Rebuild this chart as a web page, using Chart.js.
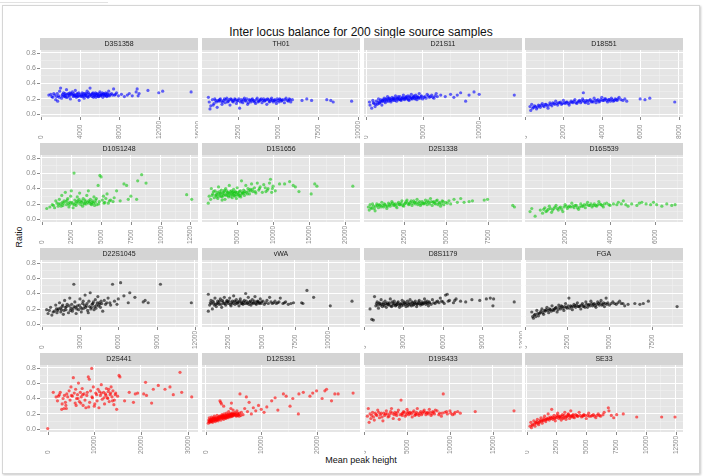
<!DOCTYPE html>
<html lang="en">
<head>
<meta charset="UTF-8">
<title>Inter locus balance</title>
<script src="https://cdn.jsdelivr.net/npm/chart.js"></script>
<style>
  body { margin:0; width:703px; height:476px; overflow:hidden; position:relative; background:#fff;
         font-family:"Liberation Sans", Arial, Helvetica, sans-serif; }
  #frame { position:absolute; left:2px; top:5px; width:696px; height:467px; border:1px solid #d6d6d6;
           box-shadow:1px 1px 2px #c8c8c8; }
  #topline { position:absolute; left:0; top:2px; width:108px; border-top:1px solid #e2e2e2; }
  #title { position:absolute; left:0; width:722px; top:25px; text-align:center; font-size:12px; color:#111; }
  #ylab { position:absolute; left:-1px; top:232px; width:40px; text-align:center; font-size:9px; color:#111;
          transform:rotate(-90deg); }
  #xlab { position:absolute; left:0; width:722px; top:455px; text-align:center; font-size:9px; color:#111; }
  canvas { position:absolute; }
</style>
</head>
<body>
<div id="topline"></div>
<div id="frame"></div>
<div id="title">Inter locus balance for 200 single source samples</div>
<div id="ylab">Ratio</div>
<div id="xlab">Mean peak height</div>
<script>
// [mean peak height, ratio]
const d3s1358 = [[800,0.25],[1000,0.26],[1200,0.22],[1300,0.27],[1500,0.19],[1600,0.23],[1700,0.17],[1800,0.24],[1900,0.30],[2000,0.34],[2100,0.21],[2200,0.26],[2300,0.28],[2400,0.23],[2500,0.25],[2600,0.32],[2700,0.22],[2800,0.27],[2900,0.24],[3000,0.20],[3100,0.26],[3200,0.29],[3300,0.23],[3400,0.25],[3500,0.31],[3600,0.22],[3700,0.27],[3800,0.24],[3900,0.18],[4000,0.26],[4100,0.23],[4200,0.28],[4300,0.25],[4400,0.21],[4500,0.27],[4600,0.24],[4700,0.30],[4800,0.22],[4900,0.26],[5000,0.34],[5100,0.25],[5200,0.23],[5300,0.28],[5400,0.24],[5500,0.26],[5600,0.22],[5700,0.27],[5800,0.25],[5900,0.23],[6000,0.29],[6100,0.24],[6200,0.26],[6300,0.22],[6400,0.27],[6500,0.25],[6600,0.28],[6700,0.23],[6800,0.26],[6900,0.30],[7000,0.24],[7200,0.27],[7400,0.33],[7500,0.25],[7700,0.28],[7900,0.24],[8200,0.26],[8500,0.23],[8800,0.25],[9000,0.27],[9300,0.24],[9700,0.29],[9800,0.33],[9900,0.24],[10000,0.27],[10900,0.31],[12000,0.28],[12400,0.30],[15300,0.29],[2350,0.24],[2650,0.26],[3250,0.25],[3750,0.23],[4150,0.25],[4650,0.27],[5150,0.26],[5650,0.24],[6150,0.25],[6650,0.24],[3050,0.27],[4450,0.24],[5450,0.25],[6350,0.26],
  [1100,0.23],[1400,0.25],[1650,0.27],[1850,0.22],[2150,0.24],[2450,0.27],[2550,0.22],[2850,0.25],[2950,0.28],[3350,0.27],[3550,0.24],[3650,0.26],[3850,0.28],[3950,0.24],[4250,0.23],[4350,0.27],[4550,0.25],[4750,0.23],[4850,0.28],[4950,0.24],[5250,0.27],[5350,0.22],[5550,0.28],[5750,0.26],[5850,0.23],[5950,0.27],[6050,0.25],[6250,0.28],[6450,0.24],[6550,0.26],[6750,0.27],[6850,0.24],[7050,0.26],[7300,0.25],[7600,0.26],[3450,0.24]];
const th01 = [[650,0.22],[700,0.16],[750,0.07],[800,0.11],[900,0.19],[1000,0.14],[1100,0.18],[1200,0.09],[1300,0.17],[1400,0.20],[1500,0.13],[1600,0.18],[1700,0.15],[1800,0.21],[1900,0.17],[2000,0.12],[2100,0.19],[2200,0.16],[2300,0.20],[2400,0.14],[2500,0.18],[2600,0.08],[2700,0.19],[2800,0.15],[2900,0.21],[3000,0.17],[3100,0.13],[3200,0.19],[3300,0.16],[3400,0.20],[3500,0.18],[3600,0.14],[3700,0.21],[3800,0.17],[3900,0.19],[4000,0.15],[4100,0.20],[4200,0.18],[4300,0.13],[4400,0.19],[4500,0.17],[4600,0.21],[4700,0.16],[4800,0.19],[4900,0.14],[5000,0.18],[5100,0.20],[5200,0.17],[5300,0.19],[5400,0.15],[5500,0.21],[5600,0.18],[5700,0.20],[5800,0.16],[5900,0.19],[6500,0.18],[6800,0.20],[7100,0.18],[8050,0.19],[8300,0.18],[8450,0.16],[9600,0.17],[1250,0.18],[1750,0.19],[2250,0.18],[2750,0.17],[3250,0.18],[3750,0.16],[4250,0.19],[4750,0.18],[2050,0.20],[3450,0.17],[4050,0.18],[2450,0.17],[1550,0.16],[950,0.12],[3150,0.15],
  [1150,0.16],[1350,0.19],[1450,0.17],[1650,0.20],[1850,0.16],[1950,0.19],[2150,0.17],[2350,0.19],[2550,0.20],[2650,0.16],[2850,0.19],[2950,0.18],[3050,0.20],[3350,0.19],[3550,0.16],[3650,0.19],[3850,0.18],[3950,0.20],[4150,0.17],[4350,0.20],[4450,0.16],[4550,0.19],[4650,0.18],[4850,0.17],[4950,0.20],[5050,0.16],[5150,0.19],[5250,0.18],[5450,0.19],[5650,0.17],[5750,0.19],[1050,0.20]];
const d21s11 = [[300,0.16],[350,0.12],[500,0.08],[600,0.18],[700,0.14],[800,0.10],[900,0.17],[1000,0.13],[1100,0.20],[1200,0.15],[1300,0.19],[1400,0.12],[1500,0.17],[1600,0.21],[1700,0.15],[1800,0.19],[1900,0.23],[2000,0.17],[2100,0.20],[2200,0.16],[2300,0.22],[2400,0.18],[2500,0.20],[2600,0.24],[2700,0.17],[2800,0.21],[2900,0.19],[3000,0.23],[3100,0.18],[3200,0.21],[3300,0.25],[3400,0.19],[3500,0.22],[3600,0.20],[3700,0.24],[3800,0.18],[3900,0.22],[4000,0.26],[4100,0.20],[4200,0.23],[4300,0.21],[4400,0.25],[4500,0.19],[4600,0.22],[4700,0.27],[4800,0.21],[4900,0.24],[5000,0.20],[5200,0.23],[5400,0.26],[5600,0.22],[5800,0.25],[6000,0.21],[6200,0.27],[6300,0.23],[6600,0.25],[7000,0.23],[7470,0.26],[7760,0.22],[8060,0.25],[8360,0.28],[8800,0.17],[9100,0.25],[9540,0.29],[10000,0.26],[13100,0.25],[1450,0.18],[1950,0.20],[2450,0.21],[2950,0.20],[3450,0.21],[3950,0.20],[4450,0.22],[2150,0.18],[3150,0.20],[4150,0.22],[5100,0.22],[5500,0.24],
  [650,0.15],[850,0.13],[1050,0.16],[1150,0.14],[1250,0.17],[1350,0.16],[1550,0.19],[1650,0.17],[1750,0.20],[1850,0.17],[2050,0.21],[2250,0.19],[2350,0.20],[2550,0.18],[2650,0.21],[2750,0.20],[2850,0.23],[3050,0.19],[3250,0.22],[3350,0.20],[3550,0.23],[3650,0.21],[3750,0.19],[3850,0.23],[4050,0.21],[4250,0.24],[4350,0.20],[4550,0.23],[4650,0.21],[4850,0.23],[5300,0.21],[5700,0.23],[5900,0.22],[6100,0.24]];
const d18s51 = [[260,0.10],[300,0.05],[350,0.13],[400,0.08],[500,0.11],[600,0.07],[700,0.12],[800,0.09],[900,0.14],[1000,0.10],[1100,0.13],[1200,0.08],[1300,0.15],[1400,0.11],[1500,0.14],[1600,0.17],[1700,0.12],[1800,0.15],[1900,0.13],[2000,0.18],[2100,0.14],[2200,0.16],[2300,0.12],[2400,0.17],[2500,0.15],[2600,0.19],[2700,0.14],[2800,0.17],[2900,0.15],[3000,0.20],[3040,0.28],[3100,0.16],[3200,0.18],[3300,0.14],[3400,0.19],[3500,0.17],[3600,0.21],[3700,0.15],[3800,0.19],[3900,0.17],[4000,0.22],[4100,0.18],[4200,0.20],[4300,0.16],[4400,0.19],[4500,0.21],[4600,0.17],[4700,0.20],[4800,0.18],[4900,0.22],[5000,0.19],[5300,0.17],[6000,0.20],[6250,0.19],[6500,0.21],[7800,0.16],[1250,0.12],[1750,0.15],[2250,0.14],[2750,0.16],[3250,0.17],[3750,0.18],[4250,0.18],[650,0.09],[1550,0.13],[2050,0.15],[2550,0.17],[3550,0.16],
  [450,0.09],[550,0.10],[750,0.11],[850,0.12],[950,0.11],[1050,0.13],[1150,0.11],[1350,0.13],[1450,0.15],[1650,0.14],[1850,0.16],[1950,0.14],[2150,0.16],[2350,0.15],[2450,0.16],[2650,0.15],[2850,0.18],[2950,0.17],[3050,0.18],[3150,0.15],[3350,0.18],[3450,0.16],[3650,0.18],[3850,0.16],[3950,0.19],[4050,0.18],[4150,0.20],[4350,0.19],[4450,0.17],[4550,0.19],[4650,0.18],[4750,0.19],[4850,0.20],[5100,0.18],[5200,0.20]];
const d10s1248 = [[440,0.14],[700,0.16],[900,0.19],[1100,0.15],[1300,0.21],[1400,0.17],[1500,0.26],[1600,0.20],[1700,0.31],[1800,0.18],[1900,0.24],[2000,0.35],[2100,0.19],[2200,0.27],[2300,0.16],[2400,0.22],[2500,0.37],[2600,0.20],[2730,0.60],[2800,0.25],[2900,0.18],[3000,0.29],[3100,0.21],[3200,0.34],[3300,0.19],[3400,0.24],[3500,0.27],[3600,0.20],[3700,0.23],[3800,0.31],[3930,0.37],[4000,0.21],[4100,0.26],[4200,0.19],[4300,0.24],[4400,0.29],[4500,0.22],[4600,0.27],[4750,0.44],[4800,0.20],[4900,0.57],[5000,0.55],[5100,0.25],[5200,0.30],[5300,0.22],[5400,0.27],[5600,0.21],[5800,0.25],[6000,0.23],[6300,0.37],[6600,0.24],[6920,0.46],[7140,0.44],[7280,0.26],[7500,0.30],[7980,0.26],[8070,0.50],[8400,0.58],[8770,0.47],[12180,0.32],[12600,0.26],[1200,0.24],[1750,0.22],[2250,0.21],[2750,0.19],[3250,0.23],[3750,0.20],[4250,0.22],[4650,0.19],[2450,0.30],[3450,0.17],[3150,0.26],[5500,0.33],[6100,0.28],[2650,0.15],[3050,0.24],[4450,0.18],[4150,0.20],
  [1000,0.18],[1450,0.20],[1650,0.17],[1850,0.21],[2050,0.23],[2150,0.25],[2350,0.19],[2550,0.22],[2850,0.21],[2950,0.23],[3350,0.22],[3550,0.21],[3650,0.25],[3850,0.22],[3950,0.24],[4050,0.23],[4350,0.21],[4550,0.25],[4850,0.23],[5250,0.21],[5700,0.24]];
const d1s1656 = [[970,0.21],[1100,0.30],[1300,0.26],[1400,0.40],[1600,0.33],[1800,0.28],[1900,0.37],[2000,0.31],[2200,0.35],[2300,0.27],[2400,0.42],[2500,0.30],[2700,0.34],[2800,0.38],[2900,0.29],[3000,0.33],[3200,0.36],[3300,0.26],[3400,0.40],[3500,0.31],[3700,0.35],[3800,0.29],[3900,0.44],[4000,0.33],[4200,0.37],[4300,0.28],[4400,0.32],[4500,0.39],[4700,0.30],[4800,0.35],[4900,0.27],[5000,0.41],[5200,0.33],[5300,0.36],[5500,0.29],[5600,0.50],[5700,0.34],[5900,0.38],[6000,0.31],[6200,0.44],[6300,0.35],[6500,0.40],[6700,0.33],[6900,0.37],[7000,0.46],[7200,0.36],[7400,0.41],[7600,0.34],[7800,0.47],[8000,0.38],[8200,0.42],[8500,0.35],[8700,0.45],[9000,0.36],[9300,0.40],[9500,0.47],[9640,0.52],[9800,0.35],[10000,0.43],[10300,0.37],[10900,0.46],[11600,0.46],[12300,0.49],[12800,0.44],[13100,0.42],[13600,0.36],[15300,0.33],[15800,0.46],[16100,0.43],[21100,0.43],[2100,0.32],[2600,0.33],[3100,0.31],[3600,0.34],[4100,0.30],[4600,0.34],[5100,0.32],[5800,0.35],[3250,0.38],[4450,0.36],[2900,0.25],[5400,0.31],[6800,0.39],[1700,0.36],
  [1500,0.31],[2150,0.29],[2350,0.33],[2550,0.36],[2750,0.30],[3050,0.35],[3350,0.32],[3550,0.37],[3750,0.31],[3850,0.34],[4050,0.36],[4250,0.33],[4350,0.35],[4550,0.31],[4750,0.36],[4850,0.32],[5050,0.35],[5250,0.30],[5450,0.37],[5650,0.33],[5950,0.34],[6100,0.36],[6400,0.33],[6600,0.37],[7100,0.39],[7500,0.36],[8100,0.40],[8900,0.41],[9200,0.38],[9900,0.40]];
const d2s1338 = [[400,0.16],[450,0.12],[500,0.19],[600,0.14],[700,0.17],[800,0.11],[900,0.20],[1000,0.15],[1100,0.18],[1200,0.22],[1300,0.16],[1400,0.19],[1500,0.14],[1600,0.21],[1700,0.17],[1800,0.23],[1900,0.18],[2000,0.20],[2100,0.15],[2200,0.22],[2300,0.19],[2400,0.24],[2500,0.17],[2600,0.21],[2700,0.25],[2800,0.19],[2900,0.22],[3000,0.18],[3100,0.24],[3200,0.20],[3300,0.26],[3400,0.21],[3500,0.18],[3600,0.23],[3700,0.20],[3800,0.25],[3900,0.19],[4000,0.22],[4100,0.27],[4200,0.18],[4300,0.23],[4400,0.20],[4500,0.25],[4600,0.21],[4700,0.17],[4800,0.24],[4900,0.19],[5000,0.22],[5300,0.20],[5500,0.26],[5700,0.22],[5900,0.27],[6100,0.22],[6400,0.23],[6600,0.24],[7300,0.25],[7500,0.26],[9000,0.18],[9100,0.16],[1250,0.18],[1750,0.20],[2250,0.19],[2750,0.21],[3250,0.22],[3750,0.21],[4250,0.22],[2050,0.17],[3050,0.21],[3550,0.20],[2550,0.20],[4550,0.19],[1550,0.17],[650,0.20],
  [550,0.15],[750,0.14],[850,0.17],[950,0.18],[1050,0.19],[1150,0.16],[1350,0.20],[1450,0.17],[1650,0.19],[1850,0.21],[1950,0.19],[2150,0.20],[2350,0.21],[2450,0.18],[2650,0.23],[2850,0.20],[2950,0.24],[3150,0.22],[3350,0.19],[3450,0.23],[3650,0.21],[3850,0.22],[3950,0.24],[4050,0.20],[4150,0.23],[4350,0.21],[4450,0.24],[4650,0.22],[4750,0.20],[4850,0.23],[5100,0.21],[5200,0.24]];
const d16s539 = [[444,0.10],[520,0.14],[670,0.04],[900,0.12],[1000,0.08],[1100,0.15],[1200,0.11],[1300,0.17],[1400,0.09],[1500,0.14],[1600,0.18],[1700,0.12],[1800,0.16],[1900,0.10],[2000,0.19],[2100,0.14],[2200,0.17],[2300,0.21],[2400,0.15],[2500,0.18],[2600,0.13],[2700,0.20],[2800,0.17],[2900,0.15],[3000,0.22],[3100,0.18],[3200,0.16],[3300,0.20],[3400,0.17],[3500,0.23],[3600,0.19],[3700,0.16],[3850,0.21],[4000,0.18],[4150,0.20],[4370,0.22],[4590,0.24],[4800,0.17],[4960,0.20],[5190,0.18],[5410,0.22],[5600,0.20],[5930,0.22],[6070,0.19],[6300,0.17],[6520,0.20],[6740,0.18],[6890,0.19],[1250,0.13],[1750,0.15],[2250,0.16],[2750,0.17],[3250,0.18],[1450,0.12],[1950,0.16],[2450,0.18],[2950,0.19],[3450,0.19],[1150,0.10],[2650,0.16],
  [1050,0.13],[1350,0.14],[1550,0.16],[1650,0.14],[1850,0.13],[2050,0.17],[2150,0.16],[2350,0.17],[2550,0.15],[2850,0.19],[3050,0.18],[3150,0.20],[3350,0.18],[3550,0.20],[3650,0.18],[3750,0.20],[3950,0.19],[4300,0.19],[4500,0.20],[4700,0.19],[5300,0.21],[5800,0.19]];
const d22s1045 = [[390,0.19],[500,0.14],[700,0.22],[800,0.12],[1000,0.17],[1100,0.25],[1200,0.15],[1300,0.20],[1400,0.28],[1500,0.16],[1600,0.23],[1700,0.13],[1800,0.31],[1900,0.19],[2000,0.26],[2100,0.15],[2200,0.34],[2300,0.21],[2400,0.17],[2520,0.52],[2600,0.29],[2700,0.14],[2800,0.24],[2900,0.19],[3000,0.33],[3100,0.16],[3200,0.27],[3300,0.21],[3400,0.38],[3500,0.24],[3600,0.18],[3700,0.30],[3800,0.41],[3900,0.22],[4000,0.27],[4100,0.19],[4200,0.32],[4300,0.25],[4400,0.36],[4500,0.28],[4600,0.22],[4780,0.17],[4900,0.31],[5000,0.26],[5200,0.34],[5340,0.28],[5550,0.52],[5700,0.30],[5900,0.26],[6180,0.54],[6440,0.37],[6780,0.28],[6900,0.41],[7300,0.35],[7950,0.29],[8100,0.31],[8340,0.28],[9300,0.52],[11720,0.28],[1450,0.21],[1950,0.23],[2450,0.20],[2950,0.25],[3450,0.22],[3950,0.26],[4450,0.24],[2250,0.18],[3150,0.20],[4150,0.23],[1750,0.18],[2650,0.22],[3650,0.15],[4700,0.27],[6000,0.33],
  [600,0.18],[900,0.16],[1150,0.20],[1250,0.18],[1550,0.19],[1650,0.25],[1850,0.22],[2150,0.24],[2350,0.26],[2550,0.23],[2750,0.20],[3050,0.22],[3250,0.30],[3350,0.25],[3550,0.27],[3750,0.23],[3850,0.20],[4050,0.29],[4250,0.21],[4350,0.28],[4550,0.26],[4650,0.30],[5100,0.28],[5400,0.25]];
const vwa = [[1000,0.39],[1000,0.17],[1100,0.25],[1200,0.31],[1300,0.20],[1400,0.28],[1500,0.34],[1600,0.23],[1700,0.30],[1800,0.26],[1900,0.33],[2000,0.22],[2100,0.29],[2200,0.35],[2300,0.25],[2400,0.31],[2500,0.27],[2600,0.34],[2700,0.24],[2800,0.30],[2900,0.37],[3000,0.26],[3100,0.32],[3200,0.28],[3300,0.24],[3400,0.33],[3500,0.29],[3600,0.26],[3700,0.31],[3800,0.40],[3900,0.27],[4000,0.35],[4100,0.29],[4200,0.25],[4300,0.32],[4400,0.28],[4500,0.36],[4600,0.26],[4700,0.30],[4800,0.27],[4900,0.33],[5000,0.29],[5200,0.26],[5400,0.31],[5600,0.35],[5800,0.27],[6000,0.30],[6200,0.28],[6400,0.34],[6600,0.27],[6800,0.29],[7000,0.26],[7390,0.28],[8000,0.28],[8100,0.27],[8400,0.44],[8900,0.35],[10150,0.24],[11780,0.30],[1250,0.27],[1750,0.28],[2250,0.27],[2750,0.28],[3250,0.29],[3750,0.27],[4250,0.28],[4750,0.29],[2050,0.31],[3050,0.29],[5300,0.28],[1550,0.26],[2450,0.29],[3450,0.27],
  [1150,0.28],[1350,0.30],[1450,0.25],[1650,0.27],[1850,0.30],[1950,0.26],[2150,0.27],[2350,0.29],[2550,0.30],[2650,0.26],[2850,0.27],[2950,0.30],[3150,0.27],[3350,0.30],[3550,0.27],[3650,0.29],[3850,0.30],[3950,0.28],[4050,0.26],[4150,0.30],[4350,0.27],[4450,0.30],[4550,0.27],[4650,0.29],[4850,0.28],[4950,0.27],[5100,0.30],[5500,0.27],[5700,0.29],[5900,0.28],[6100,0.27],[6300,0.29],[6700,0.28],[7200,0.27]];
const d8s1179 = [[460,0.20],[590,0.065],[710,0.055],[800,0.36],[900,0.24],[1000,0.29],[1100,0.21],[1200,0.27],[1300,0.32],[1400,0.23],[1500,0.26],[1600,0.30],[1700,0.22],[1800,0.28],[1900,0.25],[2000,0.33],[2100,0.23],[2200,0.27],[2300,0.30],[2400,0.24],[2500,0.26],[2600,0.29],[2700,0.22],[2800,0.27],[2900,0.31],[3000,0.25],[3100,0.28],[3200,0.23],[3300,0.30],[3400,0.26],[3500,0.32],[3600,0.24],[3700,0.28],[3800,0.26],[3900,0.30],[4000,0.23],[4100,0.27],[4200,0.31],[4300,0.25],[4400,0.29],[4500,0.27],[4600,0.33],[4700,0.26],[4800,0.30],[4900,0.24],[5000,0.28],[5200,0.32],[5400,0.27],[5600,0.30],[5800,0.34],[6000,0.29],[6200,0.38],[6330,0.39],[6500,0.31],[6800,0.28],[7000,0.33],[7340,0.30],[7730,0.29],[8200,0.32],[8800,0.31],[9300,0.33],[9600,0.34],[9800,0.24],[9850,0.33],[11420,0.29],[1250,0.25],[1750,0.26],[2250,0.25],[2750,0.26],[3250,0.27],[3750,0.25],[4250,0.27],[4750,0.28],[1450,0.28],[2050,0.24],[2650,0.25],[3350,0.24],[3950,0.27],[5500,0.29],
  [950,0.27],[1050,0.25],[1150,0.28],[1350,0.26],[1550,0.24],[1650,0.27],[1850,0.26],[1950,0.28],[2150,0.29],[2350,0.27],[2450,0.25],[2550,0.28],[2850,0.24],[2950,0.27],[3050,0.29],[3150,0.26],[3450,0.28],[3550,0.26],[3650,0.29],[3850,0.28],[4050,0.26],[4150,0.29],[4350,0.27],[4450,0.26],[4550,0.28],[4650,0.29],[4850,0.27],[4950,0.29],[5100,0.26],[5300,0.28],[5700,0.28],[5900,0.30],[6100,0.27],[6400,0.30],[6900,0.31]];
const fga = [[400,0.16],[450,0.10],[500,0.08],[600,0.13],[700,0.18],[800,0.11],[900,0.15],[1000,0.20],[1100,0.13],[1200,0.17],[1300,0.22],[1400,0.15],[1500,0.19],[1600,0.24],[1700,0.18],[1800,0.21],[1900,0.16],[2000,0.25],[2100,0.20],[2200,0.23],[2300,0.18],[2400,0.27],[2500,0.21],[2600,0.34],[2700,0.24],[2800,0.19],[2900,0.26],[3000,0.22],[3100,0.28],[3200,0.23],[3300,0.20],[3400,0.27],[3500,0.24],[3600,0.29],[3700,0.22],[3800,0.26],[3900,0.30],[4000,0.24],[4100,0.27],[4200,0.22],[4300,0.29],[4400,0.25],[4500,0.31],[4600,0.26],[4700,0.23],[4800,0.34],[4900,0.28],[5000,0.25],[5200,0.29],[5400,0.26],[5600,0.30],[5800,0.27],[5900,0.24],[6100,0.26],[6500,0.27],[6800,0.26],[7000,0.27],[7300,0.30],[9000,0.23],[1250,0.19],[1750,0.20],[2250,0.21],[2750,0.23],[3250,0.24],[3750,0.25],[4250,0.26],[4750,0.27],[850,0.14],[1550,0.17],[2450,0.22],[3550,0.22],[5300,0.27],[650,0.10],
  [550,0.12],[750,0.14],[950,0.17],[1050,0.15],[1150,0.18],[1350,0.18],[1450,0.20],[1650,0.19],[1850,0.22],[1950,0.19],[2050,0.22],[2150,0.24],[2350,0.23],[2550,0.24],[2650,0.21],[2850,0.23],[2950,0.24],[3050,0.25],[3150,0.23],[3350,0.25],[3450,0.23],[3650,0.26],[3850,0.24],[3950,0.27],[4050,0.26],[4150,0.24],[4350,0.27],[4450,0.28],[4550,0.25],[4650,0.28],[4850,0.26],[5100,0.27],[5500,0.28],[5700,0.27]];
const d2s441 = [[0,0.01],[1200,0.48],[1800,0.42],[2100,0.37],[2500,0.45],[2700,0.48],[3000,0.26],[3100,0.33],[3300,0.40],[3500,0.27],[3600,0.44],[3800,0.35],[4000,0.27],[4300,0.42],[4600,0.50],[4800,0.38],[5000,0.55],[5300,0.43],[5500,0.67],[5700,0.47],[5900,0.34],[6000,0.52],[6200,0.40],[6400,0.45],[6600,0.60],[6800,0.36],[7000,0.48],[7200,0.42],[7400,0.53],[7600,0.31],[7800,0.46],[8000,0.38],[8200,0.28],[8400,0.44],[8710,0.68],[8930,0.65],[9000,0.35],[9200,0.50],[9440,0.79],[9600,0.41],[9800,0.55],[10000,0.30],[10300,0.47],[10600,0.37],[10800,0.52],[11000,0.28],[11300,0.44],[11500,0.58],[11700,0.39],[12000,0.48],[12200,0.33],[12400,0.46],[12600,0.53],[12800,0.41],[13000,0.49],[13200,0.36],[13400,0.45],[13600,0.55],[13800,0.42],[14000,0.50],[14300,0.38],[14600,0.47],[14800,0.26],[15000,0.43],[15300,0.70],[15500,0.68],[16500,0.37],[17500,0.48],[18400,0.35],[18800,0.46],[19300,0.47],[20600,0.46],[21000,0.61],[21200,0.44],[22300,0.34],[22660,0.52],[23730,0.57],[25170,0.52],[26240,0.55],[26950,0.45],[28390,0.74],[28750,0.48],[30900,0.42],[6500,0.40],[7500,0.45],[8500,0.48],[9500,0.42],[10500,0.45],[11500,0.47],[12500,0.44],[13500,0.47],[14500,0.45],[12100,0.41],[13100,0.52],[11100,0.49],[10100,0.33],[7100,0.34],[5100,0.44],[4100,0.46],[3900,0.31],[2300,0.43],[6100,0.31],[8800,0.29],[14200,0.32],[13900,0.37],[12900,0.40]];
const d12s391 = [[420,0.08],[500,0.12],[600,0.15],[700,0.09],[800,0.13],[900,0.10],[1000,0.16],[1100,0.12],[1200,0.09],[1300,0.14],[1400,0.11],[1500,0.17],[1600,0.13],[1700,0.10],[1800,0.15],[1900,0.12],[2000,0.18],[2100,0.14],[2200,0.11],[2300,0.16],[2400,0.13],[2530,0.37],[2600,0.17],[2700,0.12],[2800,0.15],[2900,0.19],[3000,0.14],[3100,0.17],[3200,0.13],[3300,0.20],[3400,0.15],[3500,0.18],[3600,0.14],[3700,0.21],[3800,0.16],[3900,0.19],[4000,0.15],[4100,0.23],[4200,0.17],[4300,0.20],[4400,0.16],[4500,0.27],[4600,0.18],[4700,0.21],[4800,0.17],[4900,0.25],[5000,0.19],[5200,0.22],[5400,0.18],[5600,0.24],[5800,0.20],[6000,0.17],[6150,0.46],[6400,0.22],[6700,0.19],[7000,0.27],[7300,0.42],[7500,0.23],[7800,0.35],[8200,0.20],[8560,0.28],[9000,0.24],[9500,0.31],[10000,0.26],[10500,0.22],[11000,0.29],[11880,0.37],[12500,0.41],[13000,0.25],[14000,0.46],[14500,0.43],[15200,0.30],[15700,0.40],[16700,0.20],[16800,0.46],[17600,0.48],[18800,0.43],[19300,0.47],[20000,0.50],[21000,0.40],[21500,0.50],[21800,0.52],[22700,0.37],[23300,0.46],[23900,0.46],[26600,0.47],[1250,0.13],[1750,0.14],[2250,0.15],[2750,0.16],[3250,0.16],[3750,0.17],[4250,0.18],[4750,0.19],[5250,0.19],[5750,0.18],[1450,0.15],[1950,0.12],[2450,0.17],[3050,0.18],[3550,0.15],[4050,0.18],[4550,0.20],[2650,0.35],[2800,0.33],[3200,0.30],[4600,0.34],[1050,0.10],[650,0.11],
  [550,0.10],[750,0.12],[850,0.11],[950,0.13],[1150,0.14],[1350,0.12],[1550,0.14],[1650,0.12],[1850,0.13],[2050,0.15],[2150,0.13],[2350,0.14],[2550,0.15],[2850,0.17],[2950,0.15],[3150,0.16],[3350,0.17],[3450,0.16],[3650,0.18],[3850,0.17],[3950,0.16],[4150,0.19],[4350,0.17],[4450,0.19],[4650,0.17],[4850,0.20],[4950,0.18],[5100,0.20],[5350,0.20],[5500,0.17],[5650,0.21],[5900,0.19],[6050,0.21],[6300,0.18]];
const d19s433 = [[390,0.17],[500,0.27],[600,0.09],[800,0.14],[1000,0.22],[1200,0.12],[1400,0.19],[1600,0.25],[1800,0.15],[2000,0.21],[2200,0.11],[2400,0.18],[2600,0.24],[2800,0.16],[3000,0.20],[3200,0.27],[3400,0.14],[3600,0.22],[3800,0.18],[4000,0.25],[4100,0.13],[4310,0.38],[4400,0.20],[4600,0.23],[4800,0.17],[5000,0.26],[5200,0.19],[5400,0.22],[5600,0.16],[5800,0.24],[6000,0.20],[6200,0.27],[6400,0.18],[6600,0.23],[6800,0.21],[7000,0.25],[7200,0.19],[7400,0.22],[7600,0.26],[7800,0.18],[8000,0.23],[8200,0.20],[8500,0.24],[8800,0.21],[9000,0.17],[9220,0.46],[9400,0.22],[9700,0.20],[10000,0.24],[10300,0.19],[10600,0.22],[10900,0.23],[11200,0.21],[12940,0.23],[17450,0.24],[1500,0.18],[2500,0.20],[3500,0.19],[4500,0.21],[5500,0.20],[6500,0.21],[7500,0.20],[5100,0.23],[6100,0.22],[7100,0.22],[3100,0.23],[2100,0.16],[4900,0.19],[5900,0.18],[8300,0.25],[2900,0.17],
  [700,0.20],[900,0.18],[1100,0.16],[1300,0.21],[1700,0.22],[1900,0.19],[2300,0.21],[2700,0.20],[3300,0.21],[3700,0.20],[3900,0.22],[4200,0.19],[4700,0.22],[5300,0.21],[5700,0.22],[6300,0.20],[6700,0.19],[6900,0.23],[7300,0.21],[7700,0.22],[7900,0.20],[8100,0.22],[8700,0.19],[9100,0.21],[9600,0.23],[10100,0.21],[10500,0.20],[4450,0.18],[5050,0.21],[6050,0.19]];
const se33 = [[280,0.04],[350,0.09],[400,0.02],[500,0.06],[600,0.11],[700,0.04],[800,0.08],[900,0.13],[1000,0.06],[1100,0.10],[1200,0.15],[1300,0.08],[1400,0.12],[1500,0.17],[1600,0.10],[1700,0.14],[1800,0.20],[1900,0.12],[2000,0.16],[2100,0.26],[2200,0.13],[2300,0.18],[2400,0.11],[2500,0.15],[2600,0.21],[2700,0.14],[2800,0.17],[2900,0.12],[3000,0.19],[3100,0.15],[3200,0.22],[3300,0.13],[3400,0.17],[3500,0.20],[3600,0.14],[3700,0.24],[3800,0.16],[3900,0.19],[4000,0.15],[4200,0.18],[4400,0.22],[4600,0.16],[4800,0.19],[5000,0.14],[5200,0.21],[5400,0.17],[5600,0.19],[5800,0.15],[6000,0.20],[6200,0.17],[6500,0.22],[6850,0.28],[6900,0.24],[7100,0.18],[7300,0.15],[7550,0.19],[8100,0.20],[9230,0.16],[11320,0.16],[12440,0.16],[1250,0.11],[1750,0.13],[2250,0.15],[2750,0.16],[3250,0.16],[3750,0.17],[4250,0.17],[4750,0.18],[5250,0.17],[1050,0.09],[1550,0.12],[2050,0.14],[2550,0.18],[3050,0.14],[3550,0.18],
  [450,0.05],[650,0.07],[750,0.09],[850,0.10],[950,0.08],[1150,0.12],[1350,0.11],[1450,0.14],[1650,0.13],[1850,0.15],[1950,0.14],[2150,0.16],[2350,0.14],[2450,0.16],[2650,0.17],[2850,0.15],[2950,0.17],[3150,0.18],[3350,0.16],[3450,0.19],[3650,0.17],[3850,0.18],[3950,0.16],[4100,0.19],[4300,0.17],[4500,0.18],[4700,0.17],[4900,0.18],[5100,0.18],[5500,0.18],[5700,0.17],[5900,0.18],[6100,0.18],[6400,0.19]];

// tick labels on each panel's own x axis
const ticksD3S1358 = [0, 4000, 8000, 12000, 16000];
const ticksTH01 = [2500, 5000, 7500, 10000];
const ticksD21S11 = [0, 5000, 10000];
const ticksD18S51 = [0, 2000, 4000, 6000, 8000];
const ticksD10S1248 = [0, 2500, 5000, 7500, 10000, 12500];
const ticksD1S1656 = [5000, 10000, 15000, 20000];
const ticksD2S1338 = [2500, 5000, 7500];
const ticksD16S539 = [2000, 4000, 6000];
const ticksD22S1045 = [0, 3000, 6000, 9000, 12000];
const ticksVWA = [2500, 5000, 7500, 10000];
const ticksD8S1179 = [0, 3000, 6000, 9000, 12000];
const ticksFGA = [0, 2500, 5000, 7500];
const ticksD2S441 = [0, 10000, 20000, 30000];
const ticksD12S391 = [0, 10000, 20000];
const ticksD19S433 = [0, 5000, 10000, 15000];
const ticksSE33 = [0, 2500, 5000, 7500, 10000, 12500];

const yTicks = [0, 0.2, 0.4, 0.6, 0.8];
const yTickLabels = ['0.0', '0.2', '0.4', '0.6', '0.8'];
const rowColors = ['rgba(0,0,255,0.6)', 'rgba(20,200,20,0.6)', 'rgba(0,0,0,0.6)', 'rgba(255,0,0,0.6)'];

const panels = [
  { name: 'D3S1358', pts: d3s1358, ticks: ticksD3S1358, min: -100, max: 16000 },
  { name: 'TH01', pts: th01, ticks: ticksTH01, min: 250, max: 10125 },
  { name: 'D21S11', pts: d21s11, ticks: ticksD21S11, min: -180, max: 13780 },
  { name: 'D18S51', pts: d18s51, ticks: ticksD18S51, min: 0, max: 8230 },
  { name: 'D10S1248', pts: d10s1248, ticks: ticksD10S1248, min: -126, max: 13130 },
  { name: 'D1S1656', pts: d1s1656, ticks: ticksD1S1656, min: 100, max: 22100 },
  { name: 'D2S1338', pts: d2s1338, ticks: ticksD2S1338, min: 140, max: 9550 },
  { name: 'D16S539', pts: d16s539, ticks: ticksD16S539, min: 220, max: 7240 },
  { name: 'D22S1045', pts: d22s1045, ticks: ticksD22S1045, min: -130, max: 12240 },
  { name: 'vWA', pts: vwa, ticks: ticksVWA, min: 525, max: 12380 },
  { name: 'D8S1179', pts: d8s1179, ticks: ticksD8S1179, min: 0, max: 12010 },
  { name: 'FGA', pts: fga, ticks: ticksFGA, min: 0, max: 9350 },
  { name: 'D2S441', pts: d2s441, ticks: ticksD2S441, min: -1650, max: 32250 },
  { name: 'D12S391', pts: d12s391, ticks: ticksD12S391, min: -720, max: 27850 },
  { name: 'D19S433', pts: d19s433, ticks: ticksD19S433, min: 0, max: 18380 },
  { name: 'SE33', pts: se33, ticks: ticksSE33, min: -140, max: 13110 }
];

const colLeft = [40, 202, 364, 525];
const stripTop = [38, 143, 248, 353];
const PW = 158, STRIP = 12, PH = 67, BAND = 26, PADL = 40;
const YMIN = -0.035, YMAX = 0.835;
const FONT = '"Liberation Sans", Arial, sans-serif';

function minorsFor(ticks, min, max) {
  const step = ticks[1] - ticks[0];
  const out = [];
  for (let v = ticks[0] - step / 2; v <= max; v += step) {
    if (v >= min) out.push(v);
  }
  return out;
}

const facet = {
  id: 'facet',
  beforeDraw(chart, args, opts) {
    const { ctx, chartArea: a } = chart;
    ctx.save();
    ctx.fillStyle = '#e5e5e5';
    ctx.fillRect(a.left, a.top, a.right - a.left, a.bottom - a.top);
    ctx.fillStyle = '#d4d4d4';
    ctx.fillRect(a.left, 0, a.right - a.left, STRIP);
    ctx.fillStyle = '#1a1a1a';
    ctx.font = '7px ' + FONT;
    ctx.textAlign = 'center';
    ctx.textBaseline = 'middle';
    ctx.fillText(opts.name, (a.left + a.right) / 2, STRIP / 2 + 0.5);
    ctx.restore();
  },
  afterDraw(chart, args, opts) {
    const { ctx, chartArea: a, scales } = chart;
    ctx.save();
    ctx.strokeStyle = '#8a8a8a';
    ctx.fillStyle = '#8a8a8a';
    ctx.lineWidth = 1;
    ctx.font = '6.5px ' + FONT;
    opts.ticks.forEach(v => {
      if (v < scales.x.min || v > scales.x.max) return;
      const px = Math.round(scales.x.getPixelForValue(v)) + 0.5;
      ctx.beginPath();
      ctx.moveTo(px, a.bottom);
      ctx.lineTo(px, a.bottom + 3);
      ctx.stroke();
      ctx.save();
      ctx.translate(px, a.bottom + 22);
      ctx.rotate(-Math.PI / 2);
      ctx.textAlign = 'left';
      ctx.textBaseline = 'middle';
      ctx.fillText(String(v), 0, 0);
      ctx.restore();
    });
    if (opts.yAxis) {
      ctx.font = '7px ' + FONT;
      ctx.textAlign = 'right';
      ctx.textBaseline = 'middle';
      yTicks.forEach((v, i) => {
        const py = Math.round(scales.y.getPixelForValue(v)) + 0.5;
        ctx.beginPath();
        ctx.moveTo(a.left - 3, py);
        ctx.lineTo(a.left, py);
        ctx.stroke();
        ctx.fillText(yTickLabels[i], a.left - 4, py);
      });
    }
    ctx.restore();
  }
};

panels.forEach((p, i) => {
  const col = i % 4, row = Math.floor(i / 4);
  const padL = col === 0 ? PADL : 0;
  const cv = document.createElement('canvas');
  cv.width = PW + padL;
  cv.height = STRIP + PH + BAND;
  cv.style.left = (colLeft[col] - padL) + 'px';
  cv.style.top = stripTop[row] + 'px';
  document.body.appendChild(cv);

  const xMinor = minorsFor(p.ticks, p.min, p.max);
  const xMajor = p.ticks.filter(v => v >= p.min && v <= p.max);
  const yMinor = [0.1, 0.3, 0.5, 0.7];

  new Chart(cv, {
    type: 'scatter',
    data: {
      datasets: [{
        data: p.pts.map(([x, y]) => ({ x, y })),
        backgroundColor: rowColors[row],
        borderWidth: 0,
        pointRadius: 1.6,
        pointHoverRadius: 1.6
      }]
    },
    options: {
      responsive: false,
      animation: false,
      events: [],
      layout: { autoPadding: false, padding: { left: padL, top: STRIP, right: 0, bottom: BAND } },
      plugins: {
        legend: { display: false },
        tooltip: { enabled: false },
        facet: { name: p.name, ticks: p.ticks, yAxis: col === 0 }
      },
      scales: {
        x: {
          type: 'linear', min: p.min, max: p.max,
          ticks: { display: false },
          border: { display: false },
          grid: {
            drawTicks: false,
            color: c => xMinor.includes(c.tick.value) ? '#f2f2f2' : '#ffffff',
            lineWidth: c => xMinor.includes(c.tick.value) ? 0.5 : 1
          },
          afterBuildTicks: s => { s.ticks = xMajor.concat(xMinor).map(v => ({ value: v })); },
          afterFit: s => { s.height = 0; }
        },
        y: {
          min: YMIN, max: YMAX,
          ticks: { display: false },
          border: { display: false },
          grid: {
            drawTicks: false,
            color: c => yMinor.includes(c.tick.value) ? '#f2f2f2' : '#ffffff',
            lineWidth: c => yMinor.includes(c.tick.value) ? 0.5 : 1
          },
          afterBuildTicks: s => { s.ticks = yTicks.concat(yMinor).map(v => ({ value: v })); },
          afterFit: s => { s.width = 0; }
        }
      }
    },
    plugins: [facet]
  });
});
</script>
</body>
</html>
